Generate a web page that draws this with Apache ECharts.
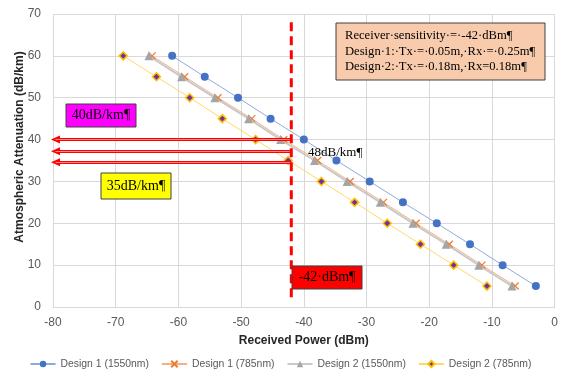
<!DOCTYPE html>
<html>
<head>
<meta charset="utf-8">
<script src="https://cdn.jsdelivr.net/npm/echarts@6/dist/echarts.min.js"></script>
<style>
  html, body { margin: 0; padding: 0; background: #fff; }
  #chart { width: 561px; height: 376px; }
</style>
</head>
<body>
<div id="chart"></div>
<script>
// attenuation levels (y) shared by all series
var attenuation = [60, 55, 50, 45, 40, 35, 30, 25, 20, 15, 10, 5];
// received power (x) for each design / wavelength
var d1_1550 = [-61.0, -55.8, -50.5, -45.3, -40.0, -34.8, -29.5, -24.2, -18.8, -13.5, -8.3, -3.0];
var d1_785  = [-64.2, -59.0, -53.7, -48.3, -43.2, -37.8, -32.6, -27.3, -22.1, -16.8, -11.6, -6.3];
var d2_1550 = [-64.7, -59.5, -54.2, -48.8, -43.7, -38.3, -33.1, -27.8, -22.6, -17.3, -12.1, -6.8];
var d2_785  = [-68.8, -63.5, -58.2, -53.0, -47.7, -42.5, -37.2, -31.9, -26.7, -21.4, -16.1, -10.8];
var seriesNames = ['Design 1 (1550nm)', 'Design 1 (785nm)', 'Design 2 (1550nm)', 'Design 2 (785nm)'];

// receiver sensitivity line and arrows
var sensitivity = -42;
var sensLineY = [68, 1.5];
var arrowLevels = [40, 37.2, 34.6];
var arrowLeftX = -79.6;

function pairs(xs) {
  return xs.map(function (x, i) { return [x, attenuation[i]]; });
}

function arrowLines() {
  return arrowLevels.map(function (y) {
    return [{ coord: [sensitivity, y] }, { coord: [arrowLeftX, y] }];
  });
}

var chart = echarts.init(document.getElementById('chart'));

var option = {
  animation: false,
  textStyle: { fontFamily: 'Liberation Sans' },
  grid: { left: 53, right: 6, top: 14, bottom: 69 },
  legend: {
    data: seriesNames,
    bottom: 2,
    left: 'center',
    itemWidth: 25,
    itemHeight: 8,
    itemGap: 12,
    textStyle: { fontSize: 10.4, color: '#595959' }
  },
  xAxis: {
    type: 'value',
    min: -80, max: 0, interval: 10,
    name: 'Received Power (dBm)',
    nameLocation: 'middle',
    nameGap: 28,
    nameTextStyle: { fontWeight: 'bold', fontSize: 12, color: '#262626' },
    axisLine: { show: true, lineStyle: { color: '#D9D9D9' } },
    axisTick: { show: false },
    axisLabel: { color: '#595959', fontSize: 12, margin: 10 },
    splitLine: { lineStyle: { color: '#D9D9D9' } }
  },
  yAxis: {
    type: 'value',
    min: 0, max: 70, interval: 10,
    axisLine: { show: false },
    axisTick: { show: false },
    axisLabel: { color: '#595959', fontSize: 12, margin: 12 },
    splitLine: { lineStyle: { color: '#D9D9D9' } }
  },
  series: [
    {
      name: seriesNames[0], type: 'line', data: pairs(d1_1550),
      symbol: 'circle', symbolSize: 8,
      itemStyle: { color: '#4472C4' },
      lineStyle: { color: '#8FAADC', width: 1 }
    },
    {
      name: seriesNames[1], type: 'line', data: pairs(d1_785),
      symbol: 'path://M0,0L10,10M10,0L0,10', symbolSize: 7,
      itemStyle: { color: '#ED7D31', borderColor: '#ED7D31', borderWidth: 1.3 },
      lineStyle: { color: '#F4B183', width: 1 }
    },
    {
      name: seriesNames[2], type: 'line', data: pairs(d2_1550),
      symbol: 'triangle', symbolSize: 9,
      itemStyle: { color: '#A5A5A5' },
      lineStyle: { color: '#C9C9C9', width: 2 }
    },
    {
      name: seriesNames[3], type: 'line', data: pairs(d2_785),
      symbol: 'diamond', symbolSize: 8,
      itemStyle: { color: '#7030A0', borderColor: '#FFC000', borderWidth: 1.5 },
      lineStyle: { color: '#FFD966', width: 1 }
    },
    {
      name: 'sensitivity', type: 'line',
      data: sensLineY.map(function (y) { return [sensitivity, y]; }),
      symbol: 'none', silent: true, z: 5,
      lineStyle: { color: '#FF0000', width: 3, type: [9, 5] },
      markLine: {
        silent: true,
        symbol: ['none', 'path://M0,0L5,10L-5,10Z'],
        symbolSize: [8, 9],
        label: { show: false },
        lineStyle: { color: '#FF0000', width: 3, type: 'solid' },
        data: arrowLines()
      }
    },
    {
      // lighter core of the arrow shafts
      name: 'arrowCore', type: 'line', data: [], silent: true, z: 6,
      markLine: {
        silent: true,
        symbol: ['none', 'none'],
        label: { show: false },
        lineStyle: { color: '#FF8A8A', width: 1, type: 'solid' },
        data: arrowLines()
      }
    }
  ],
  graphic: [
    // y axis title
    { type: 'text', x: 20, y: 147, rotation: Math.PI / 2, z: 11,
      style: { text: 'Atmospheric Attenuation (dB/km)', font: 'bold 12px "Liberation Sans"', fill: '#262626', align: 'center', verticalAlign: 'middle' } },
    // magenta 40 dB/km label
    { type: 'rect', shape: { x: 66, y: 104, width: 70, height: 23 },
      style: { fill: '#FF00FF', stroke: '#404040', lineWidth: 1 }, z: 10 },
    { type: 'text', x: 101, y: 115.5, z: 11,
      style: { text: '40dB/km¶', font: '14px "Liberation Serif"', fill: '#000', align: 'center', verticalAlign: 'middle' } },
    // yellow 35 dB/km label
    { type: 'rect', shape: { x: 101, y: 173, width: 70, height: 26 },
      style: { fill: '#FFFF00', stroke: '#404040', lineWidth: 1 }, z: 10 },
    { type: 'text', x: 136, y: 186, z: 11,
      style: { text: '35dB/km¶', font: '14px "Liberation Serif"', fill: '#000', align: 'center', verticalAlign: 'middle' } },
    // 48 dB/km plain label
    { type: 'text', x: 308, y: 153, z: 11,
      style: { text: '48dB/km¶', font: '13px "Liberation Serif"', fill: '#000', align: 'left', verticalAlign: 'middle' } },
    // red -42 dBm label
    { type: 'rect', shape: { x: 292, y: 266, width: 70, height: 23 },
      style: { fill: '#FF0000', stroke: '#404040', lineWidth: 1 }, z: 10 },
    { type: 'text', x: 327, y: 277.5, z: 11,
      style: { text: '-42·dBm¶', font: '14px "Liberation Serif"', fill: '#000', align: 'center', verticalAlign: 'middle' } },
    // peach info box
    { type: 'rect', shape: { x: 336, y: 23, width: 209, height: 57 },
      style: { fill: '#F8CBAD', stroke: '#404040', lineWidth: 1 }, z: 10 },
    { type: 'text', x: 345, y: 28, z: 11,
      style: {
        text: 'Receiver·sensitivity·=·-42·dBm¶\nDesign·1:·Tx·=·0.05m,·Rx·=·0.25m¶\nDesign·2:·Tx·=·0.18m,·Rx=0.18m¶',
        font: '12.6px "Liberation Serif"', lineHeight: 15.5, fill: '#000', align: 'left', verticalAlign: 'top'
      } }
  ]
};

chart.setOption(option);
</script>
</body>
</html>
